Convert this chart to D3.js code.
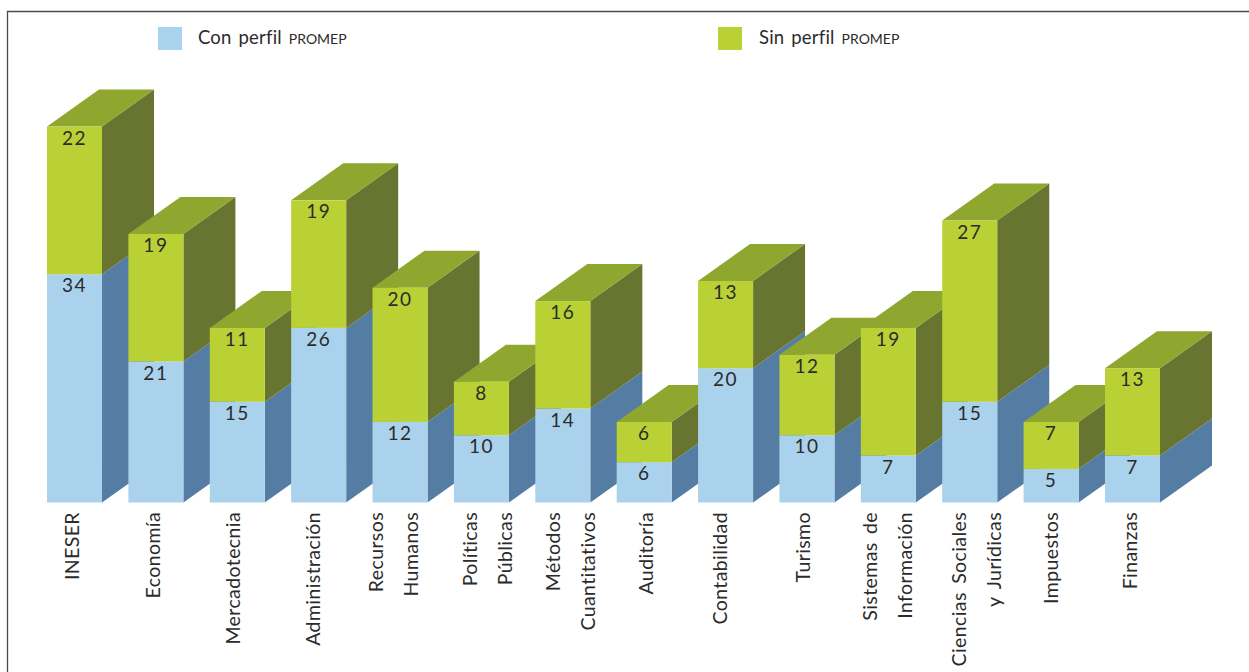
<!DOCTYPE html>
<html>
<head>
	<title>Perfil PROMEP</title>
	<script src="https://cdn.jsdelivr.net/npm/d3@7"></script>
	<style>
		html, body { margin: 0; padding: 0; background: #fff; }
		svg { display: block; }
		text { font-family: Lato, "Open Sans", sans-serif; fill: #2b2b2b; }
	</style>
</head>
<body>
<svg id="chart" width="1249" height="672"></svg>
<script type="text/javascript">
	const categories = ["INESER", "Economía", "Mercadotecnia", "Administración", "Recursos Humanos", "Políticas Públicas", "Métodos Cuantitativos", "Auditoría", "Contabilidad", "Turismo", "Sistemas de Información", "Ciencias Sociales y Jurídicas", "Impuestos", "Finanzas"];
	const labelLines = [["INESER"], ["Economía"], ["Mercadotecnia"], ["Administración"], ["Recursos", "Humanos"], ["Políticas", "Públicas"], ["Métodos", "Cuantitativos"], ["Auditoría"], ["Contabilidad"], ["Turismo"], ["Sistemas de", "Información"], ["Ciencias Sociales", "y Jurídicas"], ["Impuestos"], ["Finanzas"]];
	const conPerfil = [34, 21, 15, 26, 12, 10, 14, 6, 20, 10, 7, 15, 5, 7];
	const sinPerfil = [22, 19, 11, 19, 20, 8, 16, 6, 13, 12, 19, 27, 7, 13];

	const svg = d3.select("#chart");

	// horizontal nudge of the first label line from the bar centre, as printed
	const labelNudge = [-3, -3, -4, -6, -24, -11, -10, 2, -6, -4, -18, -11, 0, -2];
	const lineGap = 35;

	const depthX = 52, depthY = -37;

	const x = d3.scaleBand().domain(categories).range([47, 1160]).paddingInner(0.324).paddingOuter(0);
	const y = d3.scaleLinear().domain([0, 56]).range([502.5, 126.5]);

	const bars = categories.map((c, i) => ({ name: c, lines: labelLines[i], nudge: labelNudge[i], con: conPerfil[i], sin: sinPerfil[i] }));

	// marco: solo izquierda y arriba
	svg.append("path")
		.attr("d", "M7.5,672V11.5H1249")
		.attr("fill", "none")
		.attr("stroke", "#4a4a4a")
		.attr("stroke-width", 1.3);

	function side(x0, y0, y1) {
		let w = x.bandwidth();
		return [[x0 + w, y0], [x0 + w + depthX, y0 + depthY], [x0 + w + depthX, y1 + depthY], [x0 + w, y1]];
	}

	let line = d3.line();

	// cada barra se dibuja completa, la siguiente tapa el costado de la anterior
	let g = svg.selectAll("g.bar").data(bars).join("g").attr("class", "bar");

	g.append("path").attr("fill", "#557da3")
		.attr("d", d => line(side(x(d.name), y(0), y(d.con))) + "Z");
	g.append("path").attr("fill", "#677530")
		.attr("d", d => line(side(x(d.name), y(d.con), y(d.con + d.sin))) + "Z");
	g.append("path").attr("fill", "#8fa62f")
		.attr("d", d => {
			let x0 = x(d.name), t = y(d.con + d.sin), w = x.bandwidth();
			return line([[x0, t], [x0 + w, t], [x0 + w + depthX, t + depthY], [x0 + depthX, t + depthY]]) + "Z";
		});
	g.append("rect").attr("fill", "#aad2ec")
		.attr("x", d => x(d.name)).attr("width", x.bandwidth())
		.attr("y", d => y(d.con)).attr("height", d => y(0) - y(d.con));
	g.append("rect").attr("fill", "#bad136")
		.attr("x", d => x(d.name)).attr("width", x.bandwidth())
		.attr("y", d => y(d.con + d.sin)).attr("height", d => y(d.con) - y(d.con + d.sin));

	// valores
	g.append("text")
		.attr("x", d => x(d.name) + x.bandwidth() / 2)
		.attr("y", d => y(d.con) + 18)
		.attr("text-anchor", "middle")
		.style("font-size", "19px").style("letter-spacing", "1.5px")
		.text(d => d.con);
	g.append("text")
		.attr("x", d => x(d.name) + x.bandwidth() / 2)
		.attr("y", d => y(d.con + d.sin) + 18)
		.attr("text-anchor", "middle")
		.style("font-size", "19px").style("letter-spacing", "1.5px")
		.text(d => d.sin);

	// etiquetas giradas
	g.each(function(d) {
		let cx = x(d.name) + x.bandwidth() / 2 + d.nudge;
		d.lines.forEach((t, j) => {
			d3.select(this).append("text")
				.attr("transform", "translate(" + (cx + j * lineGap + 7) + ",512) rotate(-90)")
				.attr("text-anchor", "end")
				.style("font-size", "19.5px").style("letter-spacing", "0.4px").style("word-spacing", "3px")
				.text(t);
		});
	});

	// leyenda
	const legendItems = [{ name: "Con perfil", color: "#aad2ec", px: 158, tx: 198 }, { name: "Sin perfil", color: "#bad136", px: 718, tx: 759 }];
	let lg = svg.selectAll("g.legend").data(legendItems).join("g").attr("class", "legend");
	lg.append("rect").attr("x", d => d.px).attr("y", 27).attr("width", 24).attr("height", 23).attr("fill", d => d.color);
	let lt = lg.append("text").attr("x", d => d.tx).attr("y", 44).style("font-size", "18.5px").style("word-spacing", "2px");
	lt.append("tspan").style("letter-spacing", "0.2px").text(d => d.name + " ");
	lt.append("tspan").style("font-size", "14px").text("PROMEP");
</script>
</body>
</html>
